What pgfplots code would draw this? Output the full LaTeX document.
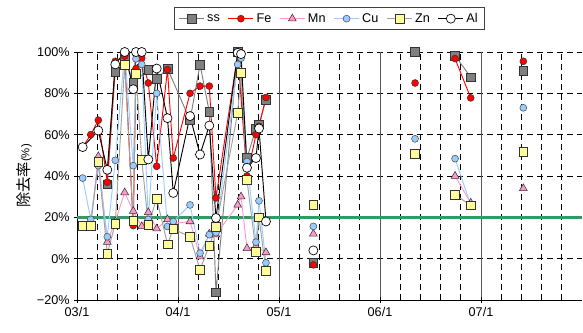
\documentclass[border=0pt]{standalone}
\usepackage{fontspec}
\setmainfont{Liberation Sans}
\newfontfamily\cjk{Noto Sans CJK JP}
\usepackage{pgfplots}
\pgfplotsset{compat=1.18}
\definecolor{ssfill}{HTML}{808080}
\definecolor{ssline}{HTML}{7F7F7F}
\definecolor{feC}{HTML}{FF0000}
\definecolor{mnC}{HTML}{FF99CC}
\definecolor{cuC}{HTML}{99CCFF}
\definecolor{znfill}{HTML}{FFFF99}
\definecolor{znline}{HTML}{A0A0A0}
\definecolor{grn}{HTML}{339966}
\begin{document}
\begin{tikzpicture}
\begin{axis}[name=ax,
  width=378.75pt, height=186pt, scale only axis,
  xmin=0, xmax=5, ymin=-20, ymax=100,
  clip=false,
  unbounded coords=jump,
  axis x line*=bottom, axis y line*=left,
  axis line style={black, line width=0.6pt},
  xtick={0,1,2,3,4}, xticklabels={03/1,04/1,05/1,06/1,07/1},
  minor xtick={0.2,0.4,0.6,0.8,1.2,1.4,1.6,1.8,2.2,2.4,2.6,2.8,3.2,3.4,3.6,3.8,4.2,4.4,4.6,4.8},
  xminorgrids=true,
  minor tick length=0pt,
  minor grid style={black, dash pattern=on 4.5pt off 3pt, line width=0.5pt},
  extra x ticks={1,2,3,4}, extra x tick labels={},
  extra x tick style={grid=major, major grid style={solid, black!65, line width=0.6pt}},
  ytick={-20,0,20,40,60,80,100},
  yticklabels={−20\%,0\%,20\%,40\%,60\%,80\%,100\%},
  ymajorgrids=true,
  major grid style={black, dash pattern=on 4.5pt off 3pt, line width=0.5pt},
  tick align=center, major tick length=4pt,
  tick style={black, line width=0.5pt},
  /pgf/number format/assume math mode=true,
  tick label style={font=\fontsize{9.5}{11}\selectfont},
  ylabel={{\cjk 除去率}{\fontsize{8.5}{10}\selectfont(\%)}},
  ylabel style={font=\fontsize{11.5}{13}\selectfont, yshift=-3pt},
  legend style={at={(0.5,1)}, anchor=south, yshift=16.5pt, legend columns=-1,
    draw=black!75, line width=0.6pt, font=\fontsize{9.5}{11}\selectfont,
    inner xsep=3pt, inner ysep=2pt,
    /tikz/every even column/.append style={column sep=4pt}},
  legend image code/.code={\draw[mark repeat=2,mark phase=2] plot coordinates {(0cm,0cm) (0.33cm,0cm) (0.66cm,0cm)};},
]
\addplot[grn, line width=2pt, forget plot] coordinates {(0,20) (5,20)};

\addplot[ssline, line width=0.7pt, mark=square*, mark size=3.3pt,
  mark options={solid, fill=ssfill, draw=black!80, line width=0.4pt}] coordinates {
(0.300,36) (0.379,90.5) (0.472,98) (0.557,85) (0.706,91.5) (0.789,87) (0.896,92)
(1.119,67) (1.218,94) (1.310,71) (1.376,-16.3) (1.591,100) (1.683,48.7) (1.772,63) (1.802,65) (1.871,77)
(2.0,nan) (2.340,-1.8) (2.5,nan) (3.347,100) (3.5,nan) (3.743,98.3) (3.898,87.8) (4.0,nan) (4.419,91)};
\addlegendentry{ss}

\addplot[feC, line width=0.7pt, mark=*, mark size=2.6pt,
  mark options={solid, fill=feC, draw=black!80, line width=0.4pt}] coordinates {
(0.056,54) (0.136,60) (0.211,67) (0.300,37) (0.379,95.5) (0.472,98) (0.557,16) (0.584,92) (0.641,97)
(0.706,85) (0.789,44.7) (0.896,91.5) (0.953,48.7) (1.119,80) (1.218,83.5) (1.310,83.5) (1.376,29.4)
(1.591,99) (1.683,40) (1.772,60) (1.802,64) (1.871,78)
(2.0,nan) (2.340,-3) (2.5,nan) (3.347,85) (3.5,nan) (3.743,96.8) (3.898,77.8) (4.0,nan) (4.419,95.5)};
\addlegendentry{Fe}

\addplot[mnC, line width=0.7pt, mark=triangle*, mark size=3.4pt,
  mark options={solid, fill=mnC, draw=black!80, line width=0.4pt}] coordinates {
(0.056,16) (0.136,17) (0.211,49.5) (0.300,8) (0.379,18) (0.472,32) (0.557,23) (0.641,15.6) (0.706,22.4)
(0.789,14.5) (0.896,19) (0.953,17) (1.119,18) (1.218,1) (1.310,12) (1.376,11.6) (1.591,26) (1.624,30)
(1.683,5) (1.772,6) (1.871,3)
(2.0,nan) (2.340,12) (3.0,nan) (3.743,40) (3.898,27) (4.0,nan) (4.419,34)};
\addlegendentry{Mn}

\addplot[cuC, line width=0.7pt, mark=*, mark size=2.6pt,
  mark options={solid, fill=cuC, draw=black!70, line width=0.4pt}] coordinates {
(0.056,39) (0.136,19) (0.211,45) (0.300,10.6) (0.379,47.6) (0.472,100) (0.557,45) (0.584,96.7) (0.641,94)
(0.706,19) (0.789,80) (0.896,15.6) (0.953,18) (1.119,26) (1.218,2.7) (1.310,11.6) (1.376,12.6)
(1.591,94) (1.624,97) (1.683,47) (1.772,8) (1.802,28) (1.871,-2)
(2.0,nan) (2.340,15.6) (2.5,nan) (3.347,58) (3.5,nan) (3.743,48.4) (3.898,26) (4.0,nan) (4.419,73)};
\addlegendentry{Cu}

\addplot[znline, line width=0.7pt, mark=square*, mark size=3.3pt,
  mark options={solid, fill=znfill, draw=black!80, line width=0.4pt}] coordinates {
(0.056,16) (0.136,16) (0.211,47) (0.300,2.4) (0.379,17) (0.472,94) (0.557,18.5) (0.584,89.6) (0.641,48)
(0.706,16.5) (0.789,29) (0.896,7) (0.953,14.4) (1.119,10.6) (1.218,-5.3) (1.310,6.3) (1.376,15.3)
(1.591,70.5) (1.624,90) (1.683,38) (1.772,3.5) (1.802,20) (1.871,-6)
(2.0,nan) (2.340,26) (2.5,nan) (3.347,50.7) (3.5,nan) (3.743,31) (3.898,25.8) (4.0,nan) (4.419,51.7)};
\addlegendentry{Zn}

\addplot[black, line width=0.7pt, mark=*, mark size=3.4pt,
  mark options={solid, fill=white, draw=black, line width=0.5pt}] coordinates {
(0.056,54) (0.211,62) (0.300,43) (0.379,94) (0.472,100) (0.557,82) (0.584,100) (0.641,100) (0.706,48)
(0.789,92) (0.896,68) (0.953,31.8) (1.119,69) (1.218,50.4) (1.310,64.4) (1.376,19.7)
(1.591,99.6) (1.624,99) (1.683,44) (1.772,48.7) (1.802,63) (1.871,18)
(2.0,nan) (2.340,4)};
\addlegendentry{Al}
\end{axis}
\pgfresetboundingbox
\path ([xshift=-57.75pt,yshift=-24pt]ax.south west) rectangle ([xshift=0.75pt,yshift=39pt]ax.north east);
\end{tikzpicture}
\end{document}
